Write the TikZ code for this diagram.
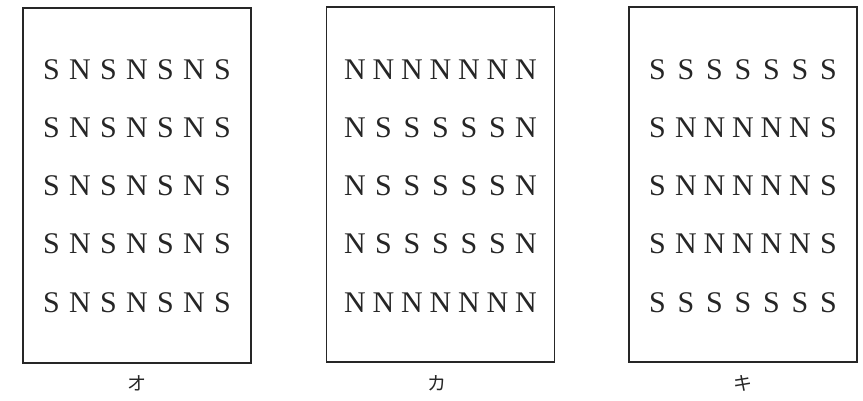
\documentclass[tikz,border=0pt]{standalone}
\usepackage{fontspec}
\setmainfont{Liberation Serif}
\newfontfamily\jpfont{Noto Sans CJK JP}
\begin{document}
\begin{tikzpicture}[
  x=1pt, y=-1pt,
  panel/.style={
    draw=black!85,
    line width=1.8pt,
    minimum width=228pt,
    minimum height=355pt,
    inner sep=0pt
  },
  pole/.style={
    font=\fontsize{30}{30}\selectfont,
    text=black!85,
    inner sep=0pt,
    anchor=base
  },
  caption/.style={
    font=\jpfont\fontsize{19}{19}\selectfont,
    text=black!85,
    inner sep=0pt
  }
]
\useasboundingbox (0,0) rectangle (863,401);

% three panels
\node[panel] at (137,185.5) (panelO) {};
\node[panel] at (440.5,184.5) (panelKa) {};
\node[panel] at (743,184.5) (panelKi) {};

% letters, row by row
\foreach \line [count=\r] in {{S,N,S,N,S,N,S},{S,N,S,N,S,N,S},{S,N,S,N,S,N,S},{S,N,S,N,S,N,S},{S,N,S,N,S,N,S}}
  \foreach \c [count=\k] in \line
    \node[pole] at ({137+(\k-4)*28.5},{80+(\r-1)*58}) (o-\r-\k) {\c};

\foreach \line [count=\r] in {{N,N,N,N,N,N,N},{N,S,S,S,S,S,N},{N,S,S,S,S,S,N},{N,S,S,S,S,S,N},{N,N,N,N,N,N,N}}
  \foreach \c [count=\k] in \line
    \node[pole] at ({440.5+(\k-4)*28.5},{80+(\r-1)*58}) (ka-\r-\k) {\c};

\foreach \line [count=\r] in {{S,S,S,S,S,S,S},{S,N,N,N,N,N,S},{S,N,N,N,N,N,S},{S,N,N,N,N,N,S},{S,S,S,S,S,S,S}}
  \foreach \c [count=\k] in \line
    \node[pole] at ({743+(\k-4)*28.5},{80+(\r-1)*58}) (ki-\r-\k) {\c};

% captions
\node[caption] at (137,383) (capO) {オ};
\node[caption] at (437,383) (capKa) {カ};
\node[caption] at (743,383) (capKi) {キ};
\end{tikzpicture}
\end{document}
